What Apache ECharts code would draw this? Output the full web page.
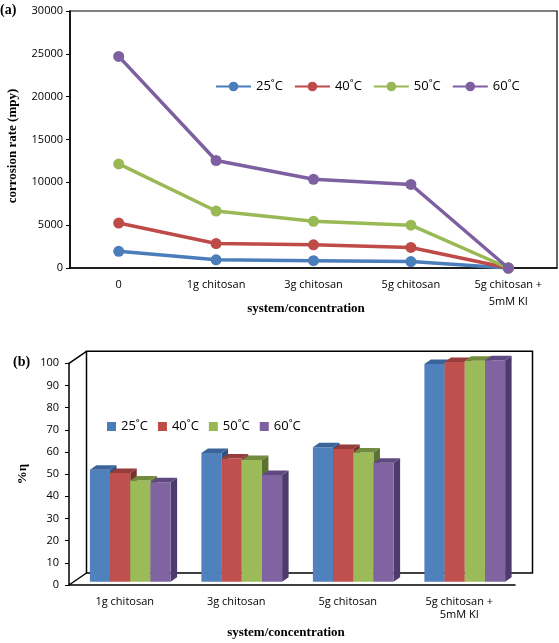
<!DOCTYPE html>
<html>
<head>
<meta charset="utf-8">
<script src="https://cdn.jsdelivr.net/npm/echarts@6/dist/echarts.min.js"></script>
<style>html,body{margin:0;padding:0;background:#fff}#c{width:559px;height:643px}</style>
</head>
<body>
<div id="c"></div>
<script>
// ---- data (a): corrosion rate (mpy) ----
const categoriesA = ['0', '1g chitosan', '3g chitosan', '5g chitosan', '5g chitosan +\n5mM KI'];
const temps = ['25˚C', '40˚C', '50˚C', '60˚C'];
const rate25 = [1950, 950, 850, 750, 0];
const rate40 = [5250, 2850, 2700, 2400, 0];
const rate50 = [12150, 6650, 5450, 5000, 0];
const rate60 = [24700, 12550, 10350, 9750, 0];
const ticksA = { min: 0, max: 30000, interval: 5000 };

// ---- data (b): inhibition efficiency %η ----
const categoriesB = ['1g chitosan', '3g chitosan', '5g chitosan', '5g chitosan +\n5mM KI'];
const eff25 = [50.5, 58, 60.6, 98.2];
const eff40 = [49, 55.6, 59.8, 99.1];
const eff50 = [45.6, 54.9, 58.3, 99.7];
const eff60 = [44.9, 48.1, 53.7, 99.9];
const ticksB = { min: 0, max: 100, interval: 10 };

// ---- styles ----
const lineColors = ['#4A7EBB', '#BE4B48', '#98B954', '#7D60A0'];
const faceColors = ['#4F81BD', '#C0504D', '#9BBB59', '#8064A2'];
const topColors = ['#3B659A', '#963C3A', '#718C3E', '#5E4A80'];
const sideColors = ['#2F527E', '#7A2F2D', '#5B7232', '#4D3C6B'];
const sansFont = 'Open Sans';
const serifFont = 'Liberation Serif';

const chart = echarts.init(document.getElementById('c'), null, { renderer: 'canvas' });

const ratesA = [rate25, rate40, rate50, rate60];
const effsB = [eff25, eff40, eff50, eff60];

function barRender(j) {
  return function (params, api) {
    const c = api.value(0), v = api.value(1);
    const p0 = api.coord([c, 0]);
    const p1 = api.coord([c, v]);
    const band = api.size([1, 0])[0];
    const bw = band * 0.181, gw = bw * 4;
    const ox = 5.5, oy = -3.3, dx = 6.5, dy = -4.5;
    const x0 = p0[0] - gw / 2 + j * bw + ox, x1 = x0 + bw;
    const yb = p0[1] + oy, yt = p1[1] + oy;
    return {
      type: 'group',
      children: [
        { type: 'polygon', shape: { points: [[x1, yt], [x1 + dx, yt + dy], [x1 + dx, yb + dy], [x1, yb]] }, style: { fill: sideColors[j] } },
        { type: 'rect', shape: { x: x0, y: yt, width: bw, height: yb - yt }, style: { fill: faceColors[j] } },
        { type: 'polygon', shape: { points: [[x0, yt], [x1, yt], [x1 + dx, yt + dy], [x0 + dx, yt + dy]] }, style: { fill: topColors[j] } }
      ]
    };
  };
}

function wallRender(params, api) {
  const band = api.size([1, 0])[0];
  const o = api.coord([0, ticksB.min]);
  const t = api.coord([0, ticksB.max]);
  const L = o[0] - band / 2, R = L + band * categoriesB.length;
  const B = o[1], T = t[1];
  const dx = 17.5, dy = -12;
  const st = { stroke: '#000', lineWidth: 1.5, fill: null };
  return {
    type: 'group',
    children: [
      { type: 'polygon', shape: { points: [[L + dx, T + dy], [R + dx, T + dy], [R + dx, B + dy], [L + dx, B + dy]] }, style: st },
      { type: 'line', shape: { x1: L, y1: T, x2: L + dx, y2: T + dy }, style: st },
      { type: 'line', shape: { x1: L, y1: B, x2: L + dx, y2: B + dy }, style: st }
    ]
  };
}

const series = [];
temps.forEach((name, j) => {
  series.push({
    type: 'line', name: name, xAxisIndex: 0, yAxisIndex: 0,
    data: ratesA[j],
    symbol: 'circle', symbolSize: 11,
    lineStyle: { width: 3.5, color: lineColors[j] },
    itemStyle: { color: lineColors[j] },
    z: 3 + j
  });
});
series.push({
  type: 'custom', name: 'wall', xAxisIndex: 1, yAxisIndex: 1,
  data: [[0, 0]], renderItem: wallRender, silent: true, z: 1
});
temps.forEach((name, j) => {
  series.push({
    type: 'custom', name: name, xAxisIndex: 1, yAxisIndex: 1,
    data: effsB[j].map((v, i) => [i, v]),
    renderItem: barRender(j),
    itemStyle: { color: faceColors[j] },
    encode: { x: 0, y: 1 },
    z: 2
  });
});

const axisLabelStyle = { fontFamily: sansFont, fontSize: 11, color: '#000' };
const nameStyle = { fontFamily: serifFont, fontWeight: 'bold', fontSize: 13, color: '#000' };

const option = {
  animation: false,
  backgroundColor: '#fff',
  grid: [
    { left: 70, right: 2, top: 11, height: 257, show: true, borderColor: '#000', borderWidth: 1.2, backgroundColor: 'transparent' },
    { left: 69, width: 446, top: 363.3, height: 221.7 }
  ],
  xAxis: [
    {
      type: 'category', gridIndex: 0, data: categoriesA, boundaryGap: true,
      axisLine: { lineStyle: { color: '#000', width: 1.5 } },
      axisTick: { alignWithLabel: true, length: 4, lineStyle: { color: '#000' } },
      axisLabel: Object.assign({ margin: 8, lineHeight: 17, interval: 0 }, axisLabelStyle),
      splitLine: { show: false }
    },
    {
      type: 'category', gridIndex: 1, data: categoriesB, boundaryGap: true,
      axisLine: { lineStyle: { color: '#000', width: 1.5 } },
      axisTick: { alignWithLabel: true, length: 4, lineStyle: { color: '#000' } },
      axisLabel: Object.assign({ margin: 10, lineHeight: 13, interval: 0 }, axisLabelStyle),
      splitLine: { show: false }
    }
  ],
  yAxis: [
    {
      type: 'value', gridIndex: 0, min: ticksA.min, max: ticksA.max, interval: ticksA.interval,
      axisLine: { show: true, lineStyle: { color: '#000', width: 1.5 } },
      axisTick: { show: true, length: 4, lineStyle: { color: '#000' } },
      axisLabel: Object.assign({ margin: 7, formatter: v => String(v) }, axisLabelStyle),
      splitLine: { show: false }
    },
    {
      type: 'value', gridIndex: 1, min: ticksB.min, max: ticksB.max, interval: ticksB.interval,
      axisLine: { show: true, lineStyle: { color: '#000', width: 1.5 } },
      axisTick: { show: true, length: 4, lineStyle: { color: '#000' } },
      axisLabel: Object.assign({ margin: 10, formatter: v => String(v) }, axisLabelStyle),
      splitLine: { show: false },
      name: '%η', nameLocation: 'middle', nameGap: 35, nameRotate: 90,
      nameTextStyle: nameStyle
    }
  ],
  legend: [
    {
      data: temps, left: 210, top: 75, itemWidth: 35, itemHeight: 12, itemGap: 11,
      textStyle: { fontFamily: sansFont, fontSize: 13, color: '#000' },
      selectedMode: false
    },
    {
      data: temps.map(n => ({ name: n, icon: 'rect' })), left: 102, top: 415,
      itemWidth: 9, itemHeight: 9, itemGap: 10,
      textStyle: { fontFamily: sansFont, fontSize: 13, color: '#000' },
      selectedMode: false
    }
  ],
  graphic: [
    { type: 'text', left: 0, top: 3, style: { text: '(a)', font: 'bold 14px "Liberation Serif"', fill: '#000' } },
    { type: 'text', left: 13, top: 355, style: { text: '(b)', font: 'bold 14px "Liberation Serif"', fill: '#000' } },
    { type: 'text', x: 13, y: 146, rotation: Math.PI / 2, style: { text: 'corrosion rate (mpy)', font: 'bold 13px "Liberation Serif"', fill: '#000', textAlign: 'center', textVerticalAlign: 'middle' } },
    { type: 'text', x: 306, y: 309, style: { text: 'system/concentration', font: 'bold 13px "Liberation Serif"', fill: '#000', textAlign: 'center', textVerticalAlign: 'middle' } },
    { type: 'text', x: 286, y: 633, style: { text: 'system/concentration', font: 'bold 13px "Liberation Serif"', fill: '#000', textAlign: 'center', textVerticalAlign: 'middle' } }
  ],
  series: series
};
chart.setOption(option);
</script>
</body>
</html>
